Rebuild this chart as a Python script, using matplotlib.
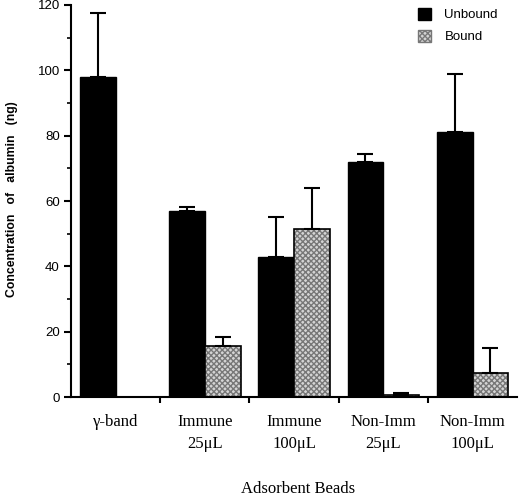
import numpy as np
import matplotlib
matplotlib.use('Agg')
import matplotlib.pyplot as plt
from matplotlib.patches import Patch

# данные
groups = ['γ-band', 'Immune\n25μL', 'Immune\n100μL', 'Non-Imm\n25μL', 'Non-Imm\n100μL']
unbound = [98, 57, 43, 72, 81]
unbound_err = [19.5, 1.3, 12, 2.5, 18]
bound = [0, 15.5, 51.5, 0.7, 7.5]
bound_err = [0, 3, 12.5, 0.6, 7.5]

serif = ['Liberation Serif', 'DejaVu Serif']
sans = ['Liberation Sans', 'DejaVu Sans']

fig = plt.figure(figsize=(5.2, 4.97), dpi=100)
ax = fig.add_axes([0.1365, 0.201, 0.858, 0.789])

x = np.arange(len(groups))
w = 0.4

ax.bar(x - w / 2, unbound, w, color='black', edgecolor='black', linewidth=1)
ax.errorbar(x - w / 2, unbound, yerr=[np.zeros(len(x)), unbound_err], fmt='none',
            ecolor='black', elinewidth=1.5, capsize=6, capthick=1.5)

# заштрихованные столбцы: сначала штриховка, потом чёрный контур
bx = x[1:] + w / 2
bv = bound[1:]
ax.bar(bx, bv, w, color='#d4d4d4', edgecolor='#777777', hatch='xxxxxx', linewidth=0)
ax.bar(bx, bv, w, fill=False, edgecolor='black', linewidth=1.2)
ax.errorbar(bx, bv, yerr=[np.zeros(len(bx)), bound_err[1:]], fmt='none',
            ecolor='black', elinewidth=1.5, capsize=6, capthick=1.5)

ax.set_xlim(-0.5, 4.5)
ax.set_ylim(0, 120)
ax.spines['top'].set_visible(False)
ax.spines['right'].set_visible(False)
ax.spines['left'].set_linewidth(1.5)
ax.spines['bottom'].set_linewidth(1.5)

ax.set_yticks(np.arange(0, 121, 20))
ax.set_yticks(np.arange(10, 120, 20), minor=True)
ax.tick_params(axis='y', which='major', length=5, width=1.5, labelsize=9.5, pad=3)
ax.tick_params(axis='y', which='minor', length=3, width=1.2)
for lab in ax.get_yticklabels():
    lab.set_family(sans)

# деления на оси x — между группами, подписи — по центру групп
ax.set_xticks(np.arange(0.5, 4.0, 1))
ax.set_xticklabels([])
ax.tick_params(axis='x', which='major', length=4, width=1.5)
ax.set_xticks(x, minor=True)
ax.set_xticklabels(groups, minor=True, family=serif, fontsize=12, va='top', linespacing=1.55)
ax.tick_params(axis='x', which='minor', length=0, pad=12)

fig.text(0.024, 1 - 199 / 497, 'Concentration   of   albumin   (ng)', family=sans,
         fontweight='bold', fontsize=8.8, rotation=90, ha='center', va='center')
fig.text(0.5731, 1 - 489 / 497, 'Adsorbent Beads', family=serif, fontsize=12,
         ha='center', va='center')

handles = [Patch(facecolor='black', edgecolor='black'),
           Patch(facecolor='#d4d4d4', edgecolor='#777777', hatch='xxxxxx')]
leg = ax.legend(handles, ['Unbound', 'Bound'], loc='upper left',
                bbox_to_anchor=(0.781, 1.008), bbox_transform=fig.transFigure,
                frameon=False, handlelength=1.0, handleheight=1.0,
                handletextpad=1.0, labelspacing=0.65,
                prop={'family': sans, 'size': 9.5})

fig.savefig('out.png', dpi=100)
